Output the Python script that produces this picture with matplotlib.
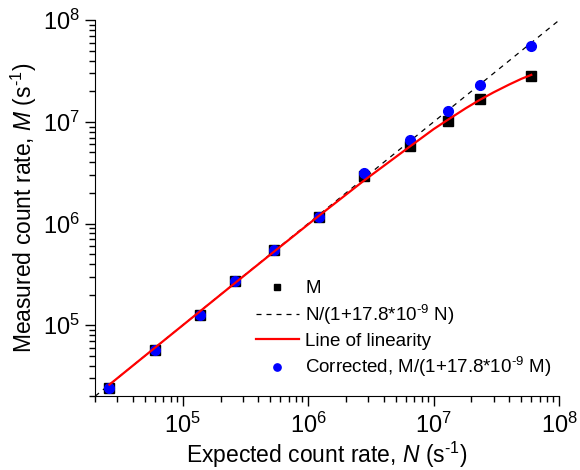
import matplotlib
matplotlib.use('Agg')
import matplotlib.pyplot as plt

plt.rcParams['font.family'] = ['Liberation Sans', 'DejaVu Sans']
plt.rcParams['mathtext.fontset'] = 'custom'
plt.rcParams['mathtext.rm'] = 'Liberation Sans'
plt.rcParams['mathtext.it'] = 'Liberation Sans:italic'
plt.rcParams['mathtext.default'] = 'regular'

# Expected count rate N and measured M
n_expected = [2.6e4, 6.0e4, 1.38e5, 2.62e5, 5.3e5, 1.22e6, 2.79e6, 6.42e6, 1.31e7, 2.32e7, 5.98e7]
m_measured = [2.4e4, 5.7e4, 1.25e5, 2.71e5, 5.46e5, 1.16e6, 2.91e6, 5.78e6, 1.03e7, 1.66e7, 2.81e7]
m_corrected = [2.4e4, 5.7e4, 1.25e5, 2.71e5, 5.5e5, 1.17e6, 3.17e6, 6.57e6, 1.27e7, 2.33e7, 5.55e7]

# dashed straight line
dash_x = [2.0e4, 1.0e8]
dash_y = [2.0e4, 1.0e8]

# red curve
red_x = [2.6e4, 6.0e4, 1.38e5, 2.6e5, 5.3e5, 1.2e6, 2.8e6, 6.4e6, 1.0e7, 1.3e7,
         1.8e7, 2.3e7, 3.0e7, 4.0e7, 5.0e7, 6.0e7]
red_y = [2.6e4, 6.0e4, 1.377e5, 2.59e5, 5.25e5, 1.175e6, 2.66e6, 5.67e6, 8.49e6, 1.05e7,
         1.36e7, 1.63e7, 1.95e7, 2.33e7, 2.65e7, 2.9e7]

hy = '\u2010'  # short hyphen used in the exponents

fig = plt.figure(figsize=(5.8, 4.7), dpi=100)
ax = fig.add_axes([0.164, 0.157, 0.800, 0.8])

ax.plot(n_expected, m_measured, 's', color='black', markersize=6.5, label='M', zorder=3)
ax.plot(dash_x, dash_y, '--', color='black', linewidth=0.9, dashes=(4, 4),
        label='N/(1+17.8*10$^{' + hy + '9}$ N)', zorder=4)
ax.plot(red_x, red_y, '-', color='red', linewidth=1.6, label='Line of linearity', zorder=5)
ax.plot(n_expected, m_corrected, 'o', color='blue', markersize=7,
        label='Corrected, M/(1+17.8*10$^{' + hy + '9}$ M)', zorder=4)

ax.set_xscale('log')
ax.set_yscale('log')
ax.set_xlim(2.0e4, 1.0e8)
ax.set_ylim(2.0e4, 1.0e8)

ax.spines['top'].set_visible(False)
ax.spines['right'].set_visible(False)
ax.tick_params(which='major', direction='out', length=7, width=1, labelsize=17, pad=4)
ax.tick_params(axis='x', which='major', pad=5)
ax.tick_params(which='minor', direction='out', length=4, width=1)

ax.set_xlabel('Expected count rate, $\\it{N}$ (s$^{' + hy + '1}$)', fontsize=16.5, labelpad=1)
ax.set_ylabel('Measured count rate, $\\it{M}$ (s$^{' + hy + '1}$)', fontsize=16.5, labelpad=3)

ax.legend(loc='lower left', bbox_to_anchor=(0.33, 0.025), frameon=False, fontsize=13.5,
          markerscale=0.75, handlelength=2.3, handletextpad=0.35, labelspacing=0.3,
          borderaxespad=0)

fig.savefig('out.png', dpi=100)
